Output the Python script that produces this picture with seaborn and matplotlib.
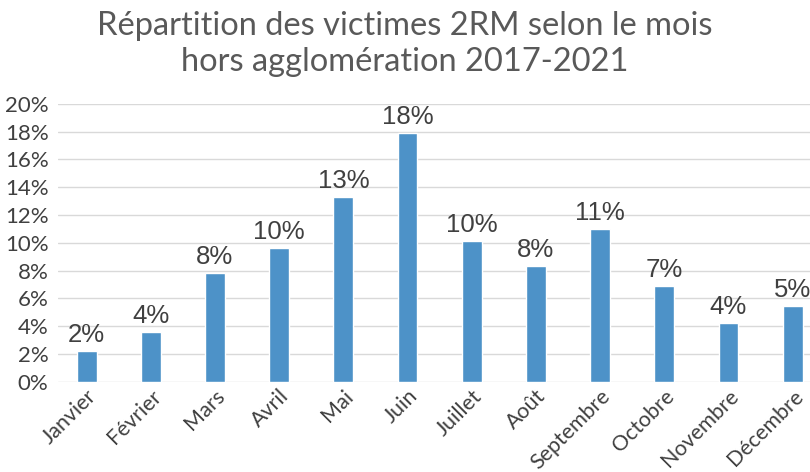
import matplotlib
matplotlib.use("Agg")
import matplotlib.pyplot as plt
import matplotlib.transforms as mtransforms
import seaborn as sns
import pandas as pd

# --- data --- #
mois = ["Janvier", "Février", "Mars", "Avril", "Mai", "Juin", "Juillet",
        "Août", "Septembre", "Octobre", "Novembre", "Décembre"]
part = [2.2, 3.6, 7.8, 9.6, 13.3, 17.9, 10.1, 8.3, 11.0, 6.9, 4.2, 5.45]
yticks = [0, 2, 4, 6, 8, 10, 12, 14, 16, 18, 20]

df = pd.DataFrame({"mois": mois, "part": part})

sns.set_style("white")
plt.rcParams['font.family'] = ['Lato', 'DejaVu Sans']

fig = plt.figure(figsize=(8.1, 4.72), dpi=100)
ax = fig.add_axes([0.072, 0.191, 0.928, 0.589])

ax.set_axisbelow(True)
for t in yticks:
    ax.axhline(t, color="#d9d9d9", lw=1, zorder=0)

sns.barplot(data=df, x="mois", y="part", color="#4d92c8", width=0.31,
            saturation=1, ax=ax, zorder=2)

for i, v in enumerate(part):
    ax.text(i, v + 0.3, "%.0f%%" % v, ha="center", va="bottom",
            fontsize=18.5, color="#404040", family="Liberation Sans")

ax.set_ylim(0, 20)
ax.set_xlim(-0.44, 11.27)
ax.set_yticks(yticks)
ax.set_yticklabels([f"{t}%" for t in yticks], fontsize=16, color="#404040")
ax.set_xticks(range(len(mois)))
ax.set_xticklabels(mois, rotation=45, ha="right", rotation_mode="anchor",
                   fontsize=15.5, color="#404040")
shift = mtransforms.ScaledTranslation(6 / 72, 0, fig.dpi_scale_trans)
for lbl in ax.get_xticklabels():
    lbl.set_transform(lbl.get_transform() + shift)
ax.tick_params(axis="y", length=0, pad=7)
ax.tick_params(axis="x", length=0, pad=3)
ax.set_xlabel("")
ax.set_ylabel("")
sns.despine(ax=ax, left=True, bottom=True, top=True, right=True)

fig.text(0.5, 0.977, "Répartition des victimes 2RM selon le mois\nhors agglomération 2017-2021",
         ha="center", va="top", fontsize=23.5, color="#595959", linespacing=1.25)

fig.savefig("out.png", dpi=100)
